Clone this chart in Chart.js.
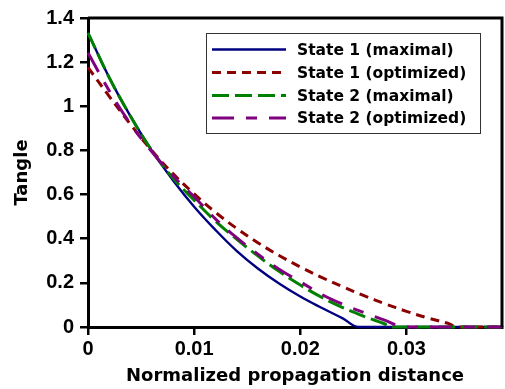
<!DOCTYPE html>
<html>
<head>
<meta charset="utf-8">
<script src="https://cdn.jsdelivr.net/npm/chart.js@4"></script>
<style>
  html, body { margin: 0; padding: 0; background: #ffffff; }
  #wrap { width: 505px; height: 389px; }
</style>
</head>
<body>
<div id="wrap"><canvas id="c" width="505" height="389"></canvas></div>
<script>
// ---- data ----
const xTicks = [0, 0.01, 0.02, 0.03];
const yTicks = [0, 0.2, 0.4, 0.6, 0.8, 1, 1.2, 1.4];
const xTitle = 'Normalized propagation distance';
const yTitle = 'Tangle';
const seriesNames = ['State 1 (maximal)', 'State 1 (optimized)', 'State 2 (maximal)', 'State 2 (optimized)'];

const s1MaxX = [0, 0.002, 0.004, 0.006, 0.008, 0.010, 0.012, 0.014, 0.016, 0.018, 0.020, 0.022, 0.024, 0.0255, 0.039];
const s1MaxY = [1.333, 1.13, 0.955, 0.80, 0.665, 0.545, 0.44, 0.345, 0.265, 0.197, 0.138, 0.087, 0.039, 0, 0];

const s1OptX = [0, 0.002, 0.004, 0.006, 0.008, 0.010, 0.012, 0.014, 0.016, 0.018, 0.020, 0.022, 0.024, 0.026, 0.028, 0.030, 0.032, 0.034, 0.0347, 0.039];
const s1OptY = [1.176, 1.045, 0.918, 0.80, 0.695, 0.603, 0.52, 0.447, 0.382, 0.324, 0.272, 0.225, 0.182, 0.142, 0.105, 0.071, 0.041, 0.015, 0, 0];

const s2MaxX = [0, 0.002, 0.004, 0.006, 0.008, 0.010, 0.012, 0.014, 0.016, 0.018, 0.020, 0.022, 0.024, 0.026, 0.0278, 0.0287, 0.039];
const s2MaxY = [1.333, 1.13, 0.955, 0.80, 0.675, 0.575, 0.48, 0.398, 0.322, 0.252, 0.19, 0.135, 0.088, 0.048, 0.017, 0, 0];

const s2OptX = [0, 0.002, 0.004, 0.006, 0.008, 0.010, 0.012, 0.014, 0.016, 0.018, 0.020, 0.022, 0.024, 0.026, 0.028, 0.0298, 0.039];
const s2OptY = [1.243, 1.07, 0.92, 0.795, 0.685, 0.59, 0.49, 0.405, 0.33, 0.262, 0.205, 0.148, 0.103, 0.065, 0.03, 0, 0];

// ---- styles ----
const colors = ['#000080', '#8b0000', '#008000', '#800080'];
const dashes = [[], [9, 6], [17, 6], [22, 12, 11, 12]];
const widths = [2.4, 3, 3, 3];
const orders = [3, 2, 1, 0];

const toPts = (xs, ys) => xs.map((x, i) => ({ x: x, y: ys[i] }));
const seriesData = [toPts(s1MaxX, s1MaxY), toPts(s1OptX, s1OptY), toPts(s2MaxX, s2MaxY), toPts(s2OptX, s2OptY)];

const datasets = seriesNames.map((name, i) => ({
  label: name,
  data: seriesData[i],
  borderColor: colors[i],
  backgroundColor: colors[i],
  borderWidth: widths[i],
  borderDash: dashes[i],
  pointRadius: 0,
  fill: false,
  tension: 0.4,
  clip: false,
  order: orders[i]
}));

const titleFont = { family: '"DejaVu Sans", sans-serif', weight: 'bold', size: 18 };
const tickFont = { family: '"Liberation Sans", Arial, sans-serif', weight: 'bold', size: 20 };

const frameAndLegend = {
  id: 'frameAndLegend',
  afterDraw(chart) {
    const ctx = chart.ctx;
    const a = chart.chartArea;
    ctx.save();
    // top and right frame
    ctx.strokeStyle = '#000';
    ctx.lineWidth = 3;
    ctx.beginPath();
    ctx.moveTo(a.left, a.top);
    ctx.lineTo(a.right, a.top);
    ctx.lineTo(a.right, a.bottom);
    ctx.stroke();

    // legend box
    const bx = 206, by = 33, bw = 274, bh = 100;
    ctx.fillStyle = '#fff';
    ctx.fillRect(bx, by, bw, bh);
    ctx.strokeStyle = '#333';
    ctx.lineWidth = 1;
    ctx.strokeRect(bx + 0.5, by + 0.5, bw, bh);
    ctx.font = 'bold 15.5px "DejaVu Sans", sans-serif';
    ctx.textBaseline = 'middle';
    ctx.textAlign = 'left';
    const rowY = [49.5, 72.5, 95.5, 118];
    chart.data.datasets.forEach((ds, i) => {
      const y = rowY[i];
      ctx.strokeStyle = ds.borderColor;
      ctx.lineWidth = ds.borderWidth;
      ctx.setLineDash(ds.borderDash);
      ctx.beginPath();
      ctx.moveTo(212, y);
      ctx.lineTo(286, y);
      ctx.stroke();
      ctx.setLineDash([]);
      ctx.fillStyle = '#000';
      ctx.fillText(ds.label, 297, y + 1);
    });
    ctx.restore();
  }
};

new Chart(document.getElementById('c'), {
  type: 'line',
  data: { datasets: datasets },
  options: {
    responsive: false,
    animation: false,
    devicePixelRatio: 1,
    layout: { padding: { top: 15, right: 3, left: 0, bottom: 0 } },
    plugins: { legend: { display: false }, tooltip: { enabled: false } },
    scales: {
      x: {
        type: 'linear',
        min: 0,
        max: 0.039,
        afterFit(scale) { scale.height = 62; },
        afterBuildTicks(scale) { scale.ticks = xTicks.map(v => ({ value: v })); },
        ticks: {
          color: '#000',
          font: tickFont,
          padding: 2,
          maxRotation: 0,
          autoSkip: false,
          callback: (v) => (v === 0 ? '0' : Number(v).toFixed(2))
        },
        grid: { drawOnChartArea: false, drawTicks: true, tickLength: 8, tickColor: '#000', lineWidth: 2.5, color: '#000' },
        border: { display: true, color: '#000', width: 3 },
        title: { display: true, text: xTitle, color: '#000', font: titleFont, padding: { top: 0, bottom: 2 } }
      },
      y: {
        type: 'linear',
        min: 0,
        max: 1.4,
        afterFit(scale) { scale.width = 88; },
        afterBuildTicks(scale) { scale.ticks = yTicks.map(v => ({ value: v })); },
        ticks: {
          color: '#000',
          font: tickFont,
          padding: 6,
          autoSkip: false,
          callback: (v) => String(Math.round(v * 10) / 10)
        },
        grid: { drawOnChartArea: false, drawTicks: true, tickLength: 8, tickColor: '#000', lineWidth: 2.5, color: '#000' },
        border: { display: true, color: '#000', width: 3 },
        title: { display: true, text: yTitle, color: '#000', font: titleFont, padding: { top: 12, bottom: 0 } }
      }
    }
  },
  plugins: [frameAndLegend]
});
</script>
</body>
</html>
